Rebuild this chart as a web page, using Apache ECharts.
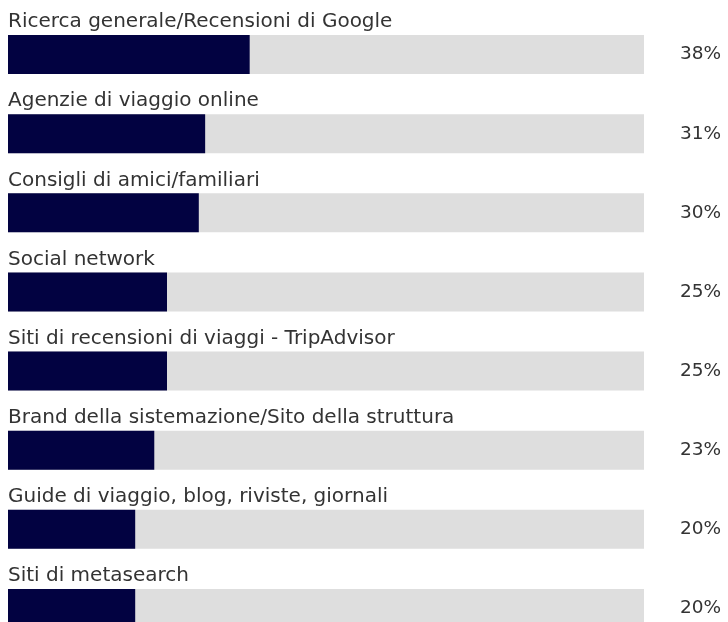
<!DOCTYPE html>
<html><head><meta charset="utf-8">
<script src="https://cdn.jsdelivr.net/npm/echarts@6/dist/echarts.min.js"></script>
<style>html,body{margin:0;padding:0;background:#fff;overflow:hidden}#c{width:728px;height:660px}</style>
</head><body><div id="c"></div>
<script>
const categories = [
  "Ricerca generale/Recensioni di Google",
  "Agenzie di viaggio online",
  "Consigli di amici/familiari",
  "Social network",
  "Siti di recensioni di viaggi - TripAdvisor",
  "Brand della sistemazione/Sito della struttura",
  "Guide di viaggio, blog, riviste, giornali",
  "Siti di metasearch"
];
const values = [38, 31, 30, 25, 25, 23, 20, 20];
const fullScale = [100, 100, 100, 100, 100, 100, 100, 100];

const FONT = 'DejaVu Sans';
const chart = echarts.init(document.getElementById('c'), null, {renderer: 'canvas'});
chart.setOption({
  animation: false,
  grid: {left: 8, right: 84, top: 15, bottom: 12},
  xAxis: {type: 'value', min: 0, max: 100, show: false},
  yAxis: {type: 'category', data: categories, inverse: true, show: false},
  series: [
    {
      type: 'bar', data: fullScale, barWidth: 39, barGap: '-100%',
      itemStyle: {color: '#dedede'},
      label: {
        show: true, position: 'right', distance: 36,
        fontFamily: FONT, fontSize: 18.5, color: '#333',
        formatter: p => values[p.dataIndex] + '%'
      }
    },
    {
      type: 'bar', data: values, barWidth: 39, barGap: '-100%',
      itemStyle: {color: '#020241'},
      label: {
        show: true, position: [0, -3], align: 'left', verticalAlign: 'bottom',
        fontFamily: FONT, fontSize: 20, color: '#333',
        formatter: p => categories[p.dataIndex]
      }
    }
  ]
});
</script></body></html>
